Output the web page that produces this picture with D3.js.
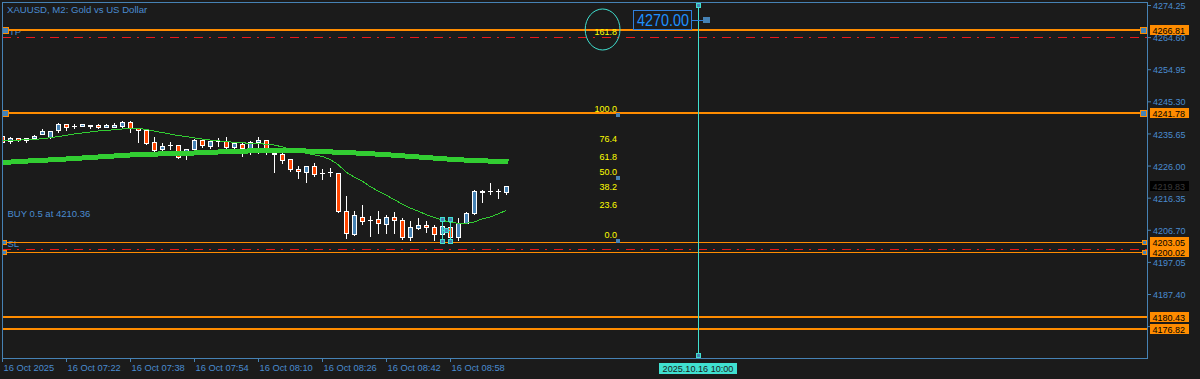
<!DOCTYPE html>
<html>
<head>
<meta charset="utf-8">
<script src="https://cdn.jsdelivr.net/npm/d3@7"></script>
<style>
  body { margin: 0; background: #1b1b1b; }
  svg { display: block; }
</style>
</head>
<body>
<div id="chart"></div>
<script>
// XAUUSD M2 bars, 16 Oct 2025 from 07:06 (bar index = 2 minutes)
const opens = [4234.97, 4233.47, 4234.19, 4233.59, 4234.19, 4235.57, 4234.58, 4236.59, 4238.40, 4237.88,
  4237.79, 4237.97, 4238.18, 4237.49, 4237.67, 4237.97, 4239.18, 4237.19, 4236.77, 4233.08,
  4230.88, 4232.08, 4232.08, 4230.16, 4230.88, 4233.68, 4231.87, 4233.47, 4233.47, 4231.48,
  4232.48, 4231.18, 4232.99, 4233.68, 4229.86, 4229.47, 4227.88, 4224.96, 4224.06, 4225.86,
  4223.85, 4223.97, 4223.67, 4212.25, 4205.43, 4210.63, 4209.73, 4209.85, 4208.52, 4210.45,
  4209.64, 4204.62, 4207.14, 4208.04, 4207.44, 4205.43, 4207.62, 4204.44, 4208.82, 4211.65,
  4218.14, 4218.50, 4218.44, 4218.14]
const highs = [4235.33, 4234.58, 4234.43, 4234.43, 4235.27, 4236.98, 4236.53, 4238.64, 4238.49, 4238.49,
  4238.58, 4238.30, 4238.49, 4238.49, 4238.64, 4239.48, 4239.33, 4237.30, 4236.92, 4234.49,
  4232.87, 4233.17, 4232.23, 4231.12, 4233.98, 4233.83, 4233.53, 4234.37, 4234.67, 4232.84,
  4232.63, 4233.23, 4234.67, 4233.83, 4230.01, 4229.77, 4228.03, 4225.86, 4226.01, 4226.68,
  4224.87, 4225.26, 4223.91, 4216.85, 4212.34, 4214.14, 4210.84, 4212.34, 4211.05, 4212.04,
  4210.33, 4209.43, 4210.15, 4209.24, 4208.13, 4208.13, 4207.83, 4210.15, 4212.13, 4218.65,
  4218.65, 4220.85, 4219.04, 4219.95]
const lows = [4232.63, 4232.78, 4233.38, 4232.99, 4234.19, 4235.39, 4234.43, 4235.99, 4236.59, 4237.19,
  4237.75, 4237.19, 4237.40, 4237.49, 4237.67, 4237.37, 4235.99, 4233.17, 4232.38, 4230.16,
  4230.73, 4230.88, 4228.36, 4227.88, 4230.67, 4231.66, 4231.42, 4231.87, 4231.20, 4231.27,
  4228.96, 4229.38, 4229.68, 4229.38, 4224.15, 4226.86, 4224.36, 4222.17, 4221.15, 4222.95,
  4222.05, 4222.86, 4212.04, 4204.14, 4205.13, 4208.43, 4204.83, 4205.82, 4205.82, 4205.82,
  4203.84, 4203.62, 4206.84, 4205.94, 4203.62, 4204.23, 4203.62, 4203.62, 4208.64, 4211.50,
  4215.13, 4217.54, 4216.34, 4217.54]
const closes = [4232.99, 4234.19, 4233.59, 4234.28, 4234.79, 4236.38, 4236.38, 4238.49, 4237.67, 4237.85,
  4238.40, 4238.28, 4237.49, 4238.09, 4238.28, 4239.18, 4237.19, 4236.74, 4232.78, 4230.67,
  4231.87, 4232.05, 4228.66, 4230.88, 4233.68, 4232.08, 4233.38, 4233.44, 4231.48, 4232.69,
  4231.18, 4233.08, 4233.68, 4231.18, 4229.38, 4227.67, 4224.87, 4224.27, 4225.86, 4223.46,
  4223.82, 4224.00, 4212.25, 4205.64, 4211.05, 4209.43, 4209.70, 4208.64, 4210.45, 4209.55,
  4204.44, 4207.44, 4208.04, 4207.44, 4205.34, 4207.83, 4204.44, 4208.64, 4211.65, 4218.35,
  4218.35, 4218.47, 4218.50, 4219.83]

const fastMA = [4233.53, 4233.59, 4233.65, 4233.74, 4233.86, 4234.04, 4234.34, 4234.70, 4235.09, 4235.48,
  4235.78, 4236.08, 4236.38, 4236.56, 4236.77, 4236.99, 4237.14, 4237.20, 4236.84, 4236.38,
  4235.93, 4235.48, 4235.03, 4234.70, 4234.34, 4233.98, 4233.68, 4233.44, 4233.23, 4232.99,
  4232.84, 4232.69, 4232.60, 4232.42, 4232.18, 4231.64, 4230.92, 4230.22, 4229.71, 4229.23,
  4228.75, 4227.88, 4226.32, 4224.06, 4222.56, 4221.36, 4219.71, 4218.35, 4217.15, 4215.80,
  4214.45, 4213.25, 4212.34, 4211.29, 4210.39, 4209.64, 4208.95, 4208.68, 4208.65, 4209.04,
  4209.94, 4210.54, 4211.44, 4212.49]
const slowMA = [4226.89, 4227.04, 4227.19, 4227.34, 4227.46, 4227.58, 4227.70, 4227.85, 4227.97, 4228.12,
  4228.27, 4228.42, 4228.57, 4228.72, 4228.87, 4229.02, 4229.17, 4229.26, 4229.35, 4229.44,
  4229.50, 4229.56, 4229.62, 4229.71, 4229.77, 4229.86, 4229.98, 4230.07, 4230.19, 4230.25,
  4230.31, 4230.40, 4230.49, 4230.55, 4230.55, 4230.52, 4230.49, 4230.43, 4230.37, 4230.28,
  4230.19, 4230.10, 4230.01, 4229.92, 4229.80, 4229.68, 4229.56, 4229.41, 4229.26, 4229.11,
  4228.93, 4228.78, 4228.60, 4228.42, 4228.24, 4228.06, 4227.91, 4227.76, 4227.64, 4227.52,
  4227.43, 4227.34, 4227.28, 4227.22]

const timeTickBars = [0, 8, 16, 24, 32, 40, 48, 56]
const timeLabels = ['16 Oct 2025', '16 Oct 07:22', '16 Oct 07:38', '16 Oct 07:54',
  '16 Oct 08:10', '16 Oct 08:26', '16 Oct 08:42', '16 Oct 08:58']
const priceTicks = [4274.25, 4264.60, 4254.95, 4245.30, 4235.65, 4226.00,
  4216.35, 4206.70, 4197.05, 4187.40, 4177.75]

const takeProfitLevels = [4266.81, 4241.78]
const stopLossLevels = [4203.05, 4200.02]
const supportLevels = [4180.43, 4176.82]
const dashLevels = [4264.63, 4200.83]
const lastPrice = 4219.83

const entryPrice = 4210.36
const entryText = 'BUY 0.5 at 4210.36'
const fibLevels = [0, 23.6, 38.2, 50, 61.8, 76.4, 100, 161.8]
const fibAnchorLevels = [0, 50, 100]
const fibRange = [4203.39, 4241.10]
const fibBar = 77
const ellipseBars = [72.9, 77.25]
const ellipsePrices = [4273.05, 4260.73]
const vlineBar = 87
const vlineText = '2025.10.16 10:00'
const priceLabelBar = 88
const priceLabelValue = 4270.00
const handleBars = [55, 56]
const handlePrices = [4209.85, 4203.2]
const titleText = 'XAUUSD, M2:  Gold vs US Dollar'

// ---- drawing ----
const axisColor = '#4682b4'
const textColor = '#4a8bd0'
const orange = '#ff8c00'
const cyan = '#40e0d0'
const green = '#32cd32'

const svg = d3.select('#chart')
  .append('svg')
  .attr('width', 1200)
  .attr('height', 379)
  .attr('font-family', '"Liberation Sans", Arial, sans-serif')

svg.append('rect').attr('width', 1200).attr('height', 379).attr('fill', '#1b1b1b')

svg.append('defs').append('clipPath').attr('id', 'plot')
  .append('rect').attr('x', 3).attr('y', 3).attr('width', 1144).attr('height', 355)

const xScale = d3.scaleLinear().domain([0, 1]).range([2, 10])
const yScale = d3.scaleLinear().domain([4187.40, 4274.25]).range([294, 5])
const px = (v) => Math.round(v) + 0.5

// TP / SL captions sit under the lines
svg.append('text').attr('x', 9).attr('y', Math.round(yScale(takeProfitLevels[0])) + 5)
  .attr('font-size', 9.5).attr('fill', textColor).text('TP')
svg.append('text').attr('x', 7.5).attr('y', Math.round(yScale(stopLossLevels[0])) + 4.7)
  .attr('font-size', 9.5).attr('fill', textColor).text('SL')

// red dash-dot levels
svg.append('g')
  .attr('shape-rendering', 'crispEdges')
  .selectAll('line')
  .data(dashLevels)
  .join('line')
  .attr('x1', 2).attr('x2', 1147)
  .attr('y1', (d) => px(yScale(d))).attr('y2', (d) => px(yScale(d)))
  .attr('stroke', '#e8191b')
  .attr('stroke-dasharray', '9,6,2,7')

// orange horizontal levels
const levelGroup = svg.append('g').attr('stroke', orange).attr('shape-rendering', 'crispEdges')
levelGroup.selectAll('.wide')
  .data(takeProfitLevels.concat(supportLevels))
  .join('line')
  .attr('x1', 2).attr('x2', 1147)
  .attr('y1', (d) => Math.round(yScale(d))).attr('y2', (d) => Math.round(yScale(d)))
  .attr('stroke-width', 2)
levelGroup.selectAll('.thin')
  .data(stopLossLevels)
  .join('line')
  .attr('x1', 2).attr('x2', 1147)
  .attr('y1', (d) => px(yScale(d))).attr('y2', (d) => px(yScale(d)))
  .attr('stroke-width', 1)

// candles
const candles = opens.map((o, i) => ({ i, o, h: highs[i], l: lows[i], c: closes[i] }))
const candleGroup = svg.append('g').attr('clip-path', 'url(#plot)').attr('shape-rendering', 'crispEdges')

candleGroup.selectAll('.wick')
  .data(candles)
  .join('line')
  .attr('x1', (d) => px(xScale(d.i))).attr('x2', (d) => px(xScale(d.i)))
  .attr('y1', (d) => Math.round(yScale(d.h))).attr('y2', (d) => Math.round(yScale(d.l)) + 1)
  .attr('stroke', '#fff')

const bodyTop = (d) => Math.round(yScale(Math.max(d.o, d.c)))
const bodyBot = (d) => Math.round(yScale(Math.min(d.o, d.c)))

candleGroup.selectAll('.body')
  .data(candles.filter((d) => bodyBot(d) - bodyTop(d) >= 1))
  .join('rect')
  .attr('x', (d) => Math.round(xScale(d.i)) - 1.5)
  .attr('y', (d) => bodyTop(d) + 0.5)
  .attr('width', 4)
  .attr('height', (d) => bodyBot(d) - bodyTop(d))
  .attr('fill', (d) => (d.c >= d.o ? '#4682b4' : '#ff4500'))
  .attr('stroke', '#fff')

candleGroup.selectAll('.doji')
  .data(candles.filter((d) => bodyBot(d) - bodyTop(d) < 1))
  .join('line')
  .attr('x1', (d) => Math.round(xScale(d.i)) - 2).attr('x2', (d) => Math.round(xScale(d.i)) + 3)
  .attr('y1', (d) => bodyTop(d) + 0.5).attr('y2', (d) => bodyTop(d) + 0.5)
  .attr('stroke', '#fff')

// moving averages
const maLine = d3.line().x((d, i) => xScale(i)).y((d) => yScale(d))
const maGroup = svg.append('g').attr('clip-path', 'url(#plot)').attr('fill', 'none')
  .attr('stroke', green).attr('shape-rendering', 'crispEdges')
maGroup.append('path').attr('d', maLine(slowMA)).attr('stroke-width', 5).attr('stroke-linecap', 'square')
maGroup.append('path').attr('d', maLine(fastMA)).attr('stroke-width', 1)

// selected trade handles
const hx = handleBars.map((b) => Math.round(xScale(b)))
const hy = handlePrices.map((p) => Math.round(yScale(p)))
const handleGroup = svg.append('g').attr('shape-rendering', 'crispEdges')
handleGroup.selectAll('line')
  .data(hx)
  .join('line')
  .attr('x1', (d) => d + 0.5).attr('x2', (d) => d + 0.5)
  .attr('y1', hy[0]).attr('y2', hy[1])
  .attr('stroke', cyan)
handleGroup.append('line')
  .attr('x1', hx[0]).attr('x2', hx[1]).attr('y1', (hy[0] + hy[1]) / 2 + 0.5).attr('y2', (hy[0] + hy[1]) / 2 + 0.5)
  .attr('stroke', cyan)
const handlePoints = [[hx[0], hy[0]], [hx[1], hy[0]], [hx[0], hy[1]], [hx[1], hy[1]],
  [(hx[0] + hx[1]) / 2, (hy[0] + hy[1]) / 2]]
handleGroup.selectAll('rect')
  .data(handlePoints)
  .join('rect')
  .attr('x', (d) => d[0] - 1.5).attr('y', (d) => d[1] - 1.5)
  .attr('width', 4).attr('height', 4)
  .attr('fill', axisColor).attr('stroke', cyan)

// level markers, left and right
const markerData = takeProfitLevels.map((p) => ({ p, s: 7 }))
  .concat(stopLossLevels.map((p) => ({ p, s: 5 })))
const markers = svg.append('g').attr('fill', axisColor).attr('stroke', orange).attr('shape-rendering', 'crispEdges')
markers.selectAll('.left')
  .data(markerData)
  .join('rect')
  .attr('x', 2.5)
  .attr('y', (d) => Math.round(yScale(d.p)) - d.s / 2 + 0.5)
  .attr('width', (d) => d.s - 1).attr('height', (d) => d.s - 1)
markers.selectAll('.right')
  .data(markerData)
  .join('rect')
  .attr('x', (d) => 1146.5 - d.s + 1)
  .attr('y', (d) => Math.round(yScale(d.p)) - d.s / 2 + 0.5)
  .attr('width', (d) => d.s - 1).attr('height', (d) => d.s - 1)

// fibonacci labels
const fibPrice = (lvl) => fibRange[0] + (fibRange[1] - fibRange[0]) * lvl / 100
const fibX = Math.round(xScale(fibBar))
svg.append('g')
  .selectAll('text')
  .data(fibLevels)
  .join('text')
  .attr('x', fibX - 1)
  .attr('y', (d) => yScale(fibPrice(d)) - 3.2)
  .attr('text-anchor', 'end')
  .attr('font-size', 9)
  .attr('fill', '#ffff00')
  .text(d3.format('.1f'))
svg.append('g')
  .selectAll('rect')
  .data(fibAnchorLevels)
  .join('rect')
  .attr('x', fibX - 2).attr('y', (d) => Math.round(yScale(fibPrice(d))) - 2)
  .attr('width', 4).attr('height', 4)
  .attr('fill', axisColor)

// ellipse
svg.append('ellipse')
  .attr('cx', (xScale(ellipseBars[0]) + xScale(ellipseBars[1])) / 2)
  .attr('cy', (yScale(ellipsePrices[0]) + yScale(ellipsePrices[1])) / 2)
  .attr('rx', (xScale(ellipseBars[1]) - xScale(ellipseBars[0])) / 2)
  .attr('ry', (yScale(ellipsePrices[1]) - yScale(ellipsePrices[0])) / 2)
  .attr('fill', 'none').attr('stroke', cyan)

// vertical time line
const vx = Math.round(xScale(vlineBar))
svg.append('line')
  .attr('x1', vx + 0.5).attr('x2', vx + 0.5).attr('y1', 5).attr('y2', 356)
  .attr('stroke', cyan).attr('shape-rendering', 'crispEdges')
svg.append('g')
  .selectAll('rect')
  .data([5, 355])
  .join('rect')
  .attr('x', vx - 1.5).attr('y', (d) => d - 1.5)
  .attr('width', 4).attr('height', 4)
  .attr('fill', axisColor).attr('stroke', cyan)

// price label object
const plx = Math.round(xScale(priceLabelBar))
const ply = Math.round(yScale(priceLabelValue))
svg.append('line')
  .attr('x1', plx - 15).attr('x2', plx - 3).attr('y1', ply + 1.5).attr('y2', ply + 1.5)
  .attr('stroke', '#2f7fdc')
svg.append('rect')
  .attr('x', plx - 3).attr('y', ply - 2).attr('width', 7).attr('height', 6)
  .attr('fill', axisColor)
svg.append('rect')
  .attr('x', plx - 72.5).attr('y', ply - 8.5).attr('width', 58).attr('height', 19)
  .attr('fill', 'none').attr('stroke', '#2f7fdc')
svg.append('text')
  .attr('x', plx - 69).attr('y', ply + 7)
  .attr('font-size', 16).attr('fill', '#1e90ff')
  .attr('textLength', 52).attr('lengthAdjust', 'spacingAndGlyphs')
  .text(priceLabelValue.toFixed(2))

// frame
svg.append('rect')
  .attr('x', 2.5).attr('y', 2.5).attr('width', 1145).attr('height', 356)
  .attr('fill', 'none').attr('stroke', axisColor)

// price axis
const yAxis = d3.axisRight(yScale).tickValues(priceTicks).tickSize(4).tickPadding(2)
  .tickFormat(d3.format('.2f'))
svg.append('g')
  .attr('transform', 'translate(1147, 0)')
  .call(yAxis)
  .call((g) => g.select('.domain').remove())
  .call((g) => g.selectAll('line').attr('stroke', axisColor))
  .call((g) => g.selectAll('text').attr('fill', textColor).attr('dy', '0.4em')
    .attr('font-size', 9).attr('font-family', '"Liberation Sans", Arial, sans-serif'))

// time axis
const xAxis = d3.axisBottom(xScale).tickValues(timeTickBars).tickSize(4)
  .tickFormat((d, k) => timeLabels[k])
svg.append('g')
  .attr('transform', 'translate(0, 358)')
  .call(xAxis)
  .call((g) => g.select('.domain').remove())
  .call((g) => g.selectAll('line').attr('stroke', axisColor))
  .call((g) => g.selectAll('text').attr('fill', textColor).attr('text-anchor', 'start')
    .attr('x', 1).attr('y', 13).attr('dy', null)
    .attr('font-size', 9.3).attr('font-family', '"Liberation Sans", Arial, sans-serif'))

// right-side price tags
const tagData = takeProfitLevels.concat(stopLossLevels, supportLevels)
const tags = svg.append('g')
  .selectAll('g')
  .data(tagData)
  .join('g')
  .attr('transform', (d) => `translate(1150, ${Math.round(yScale(d)) - 5})`)
tags.append('rect').attr('width', 39).attr('height', 10).attr('fill', orange)
tags.append('text').attr('x', 2.5).attr('y', 8.5).attr('font-size', 9).attr('fill', '#000')
  .text((d) => d.toFixed(2))

const lastTag = svg.append('g')
  .attr('transform', `translate(1150, ${Math.round(yScale(lastPrice)) - 5})`)
lastTag.append('rect').attr('width', 39).attr('height', 10).attr('fill', '#000')
lastTag.append('text').attr('x', 2.5).attr('y', 8.5).attr('font-size', 9).attr('fill', '#3a3a3a')
  .text(lastPrice.toFixed(2))

// time label under the vertical line
const timeTag = svg.append('g').attr('transform', `translate(${vx - 39}, 363)`)
timeTag.append('rect').attr('width', 78).attr('height', 11).attr('fill', cyan)
timeTag.append('text').attr('x', 39).attr('y', 9).attr('text-anchor', 'middle')
  .attr('font-size', 9.1).attr('fill', '#1b1b1b').text(vlineText)

// captions
svg.append('text').attr('x', 7).attr('y', 13)
  .attr('font-size', 9.6).attr('fill', textColor).text(titleText)
svg.append('text').attr('x', 7.5).attr('y', Math.round(yScale(entryPrice)) - 1.5)
  .attr('font-size', 9.5).attr('fill', textColor).text(entryText)
</script>
</body>
</html>
